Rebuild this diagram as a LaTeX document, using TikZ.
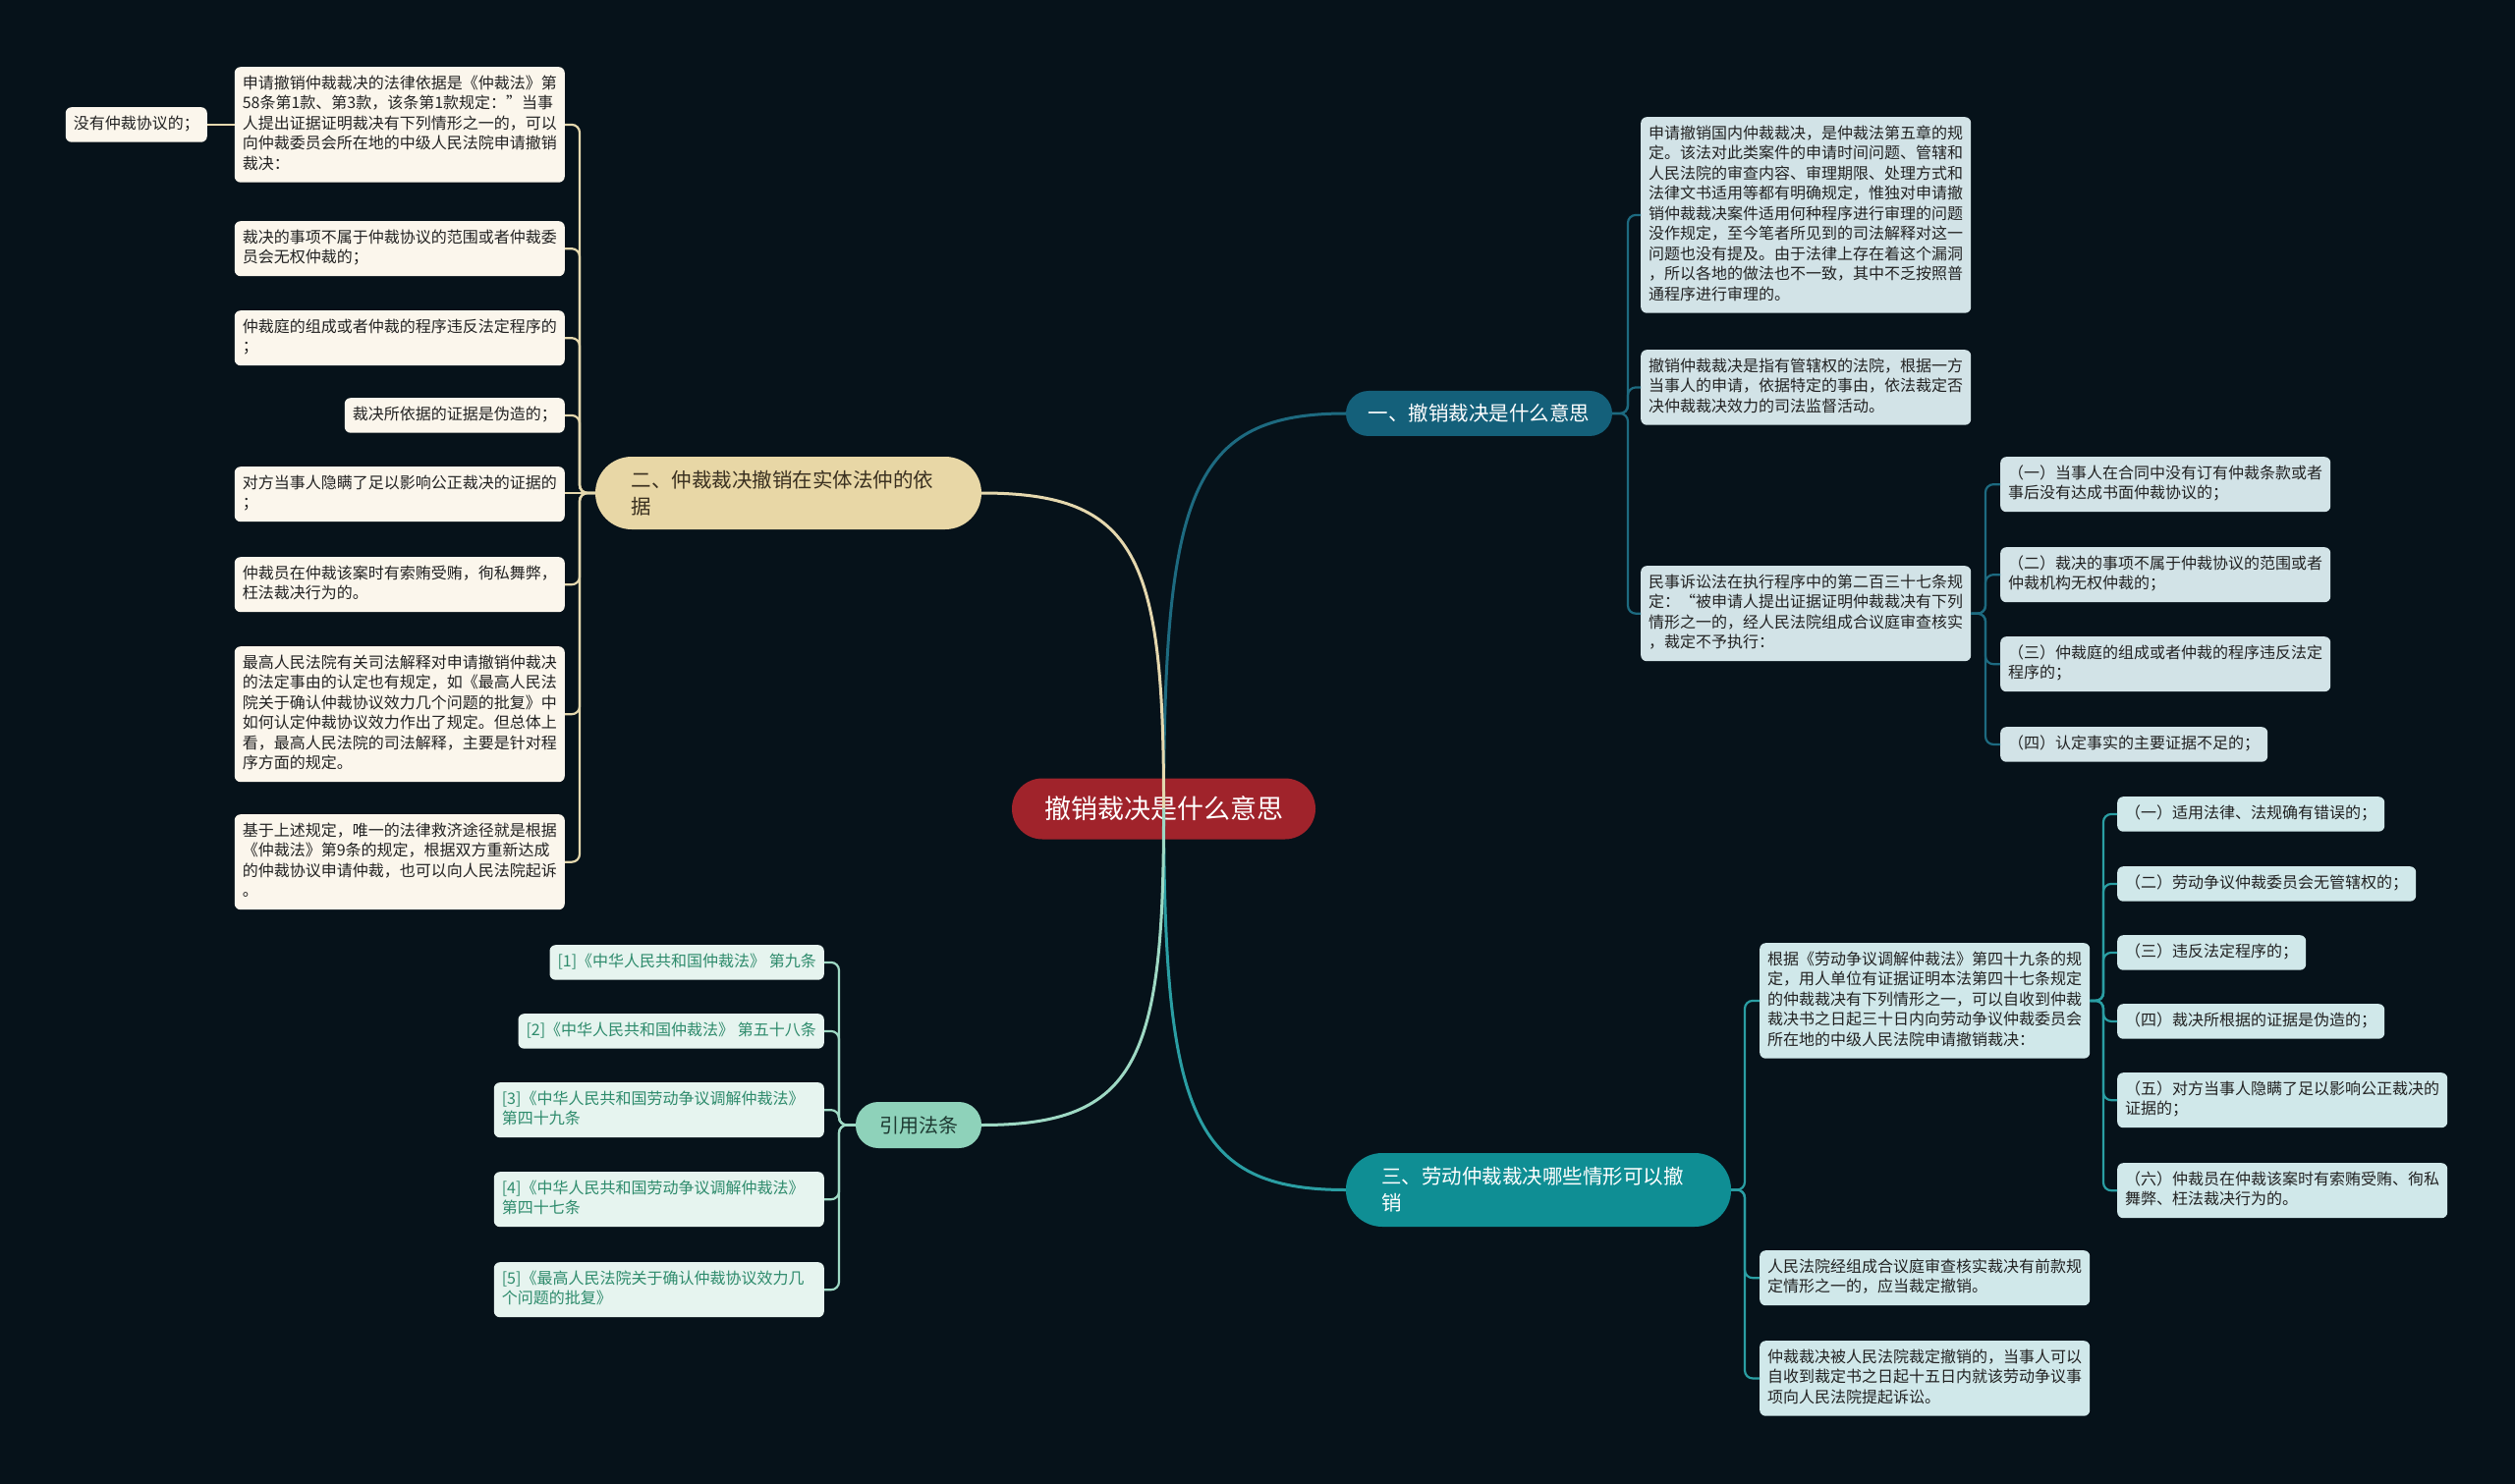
\documentclass[tikz,border=0pt]{standalone}
\usepackage{fontspec}
\setmainfont{Noto Sans CJK SC}
\definecolor{bg}{HTML}{06121A}
\definecolor{cred}{HTML}{A0232B}
\definecolor{cone}{HTML}{14607A}
\definecolor{lone}{HTML}{1D6A80}
\definecolor{cthree}{HTML}{0F8E94}
\definecolor{lthree}{HTML}{2A9EA3}
\definecolor{ctwo}{HTML}{E8D7A6}
\definecolor{ltwo}{HTML}{E5D8AE}
\definecolor{cfour}{HTML}{8ED2BA}
\definecolor{lfour}{HTML}{9ED9C4}
\definecolor{boxblue}{HTML}{D2E3E7}
\definecolor{boxteal}{HTML}{D0E8EA}
\definecolor{boxcream}{HTML}{FBF6EC}
\definecolor{boxmint}{HTML}{E6F4EF}
\definecolor{txtdark}{HTML}{222222}
\definecolor{txtmint}{HTML}{2E8B6C}
\definecolor{txttwo}{HTML}{3A3020}
\definecolor{txtfour}{HTML}{1E3A32}
\tikzset{
  leaf/.style={rounded corners=6pt, inner xsep=8pt, inner ysep=7.5pt, align=left,
    font=\fontsize{16}{20.5}\selectfont, execute at begin node=\strut, execute at end node=\strut},
  bluebox/.style={leaf, fill=boxblue, text=txtdark},
  tealbox/.style={leaf, fill=boxteal, text=txtdark},
  creambox/.style={leaf, fill=boxcream, text=txtdark},
  mintbox/.style={leaf, fill=boxmint, text=txtmint},
  wbox/.style={text width=320pt},
  pillnode/.style={rounded corners=#1, inner sep=0pt},
  mainline/.style={line width=3pt},
  subline/.style={line width=2.2pt, rounded corners=8pt},
}
\newcommand\rconn[4]{\draw[subline,#1] (#2.east) -| ([xshift=-#4]#3.west) -- (#3.west);}
\newcommand\lconn[4]{\draw[subline,#1] (#2.west) -| ([xshift=#4]#3.east) -- (#3.east);}
\begin{document}
\begin{tikzpicture}[x=1pt,y=-1pt]
\fill[bg] (0,0) rectangle (2560,1511);
\useasboundingbox (0,0) rectangle (2560,1511);

% central
\node[pillnode=31pt, fill=cred, text=white, minimum width=309pt, minimum height=62pt,
  font=\fontsize{27}{32}\selectfont] (c) at (1184.5,823.5) {撤销裁决是什么意思};

% main branches
\node[pillnode=23pt, fill=cone, text=white, minimum width=271pt, minimum height=46pt,
  font=\fontsize{20.5}{27}\selectfont] (n1) at (1505.5,421) {一、撤销裁决是什么意思};
\node[pillnode=37pt, fill=cthree, text=white, minimum width=392pt, minimum height=75pt,
  inner xsep=36pt, text width=320pt, align=left,
  font=\fontsize{20.5}{27}\selectfont] (n3) at (1566,1211.5) {三、劳动仲裁裁决哪些情形可以撤\\销};
\node[pillnode=37pt, fill=ctwo, text=txttwo, minimum width=393pt, minimum height=74pt,
  inner xsep=36pt, text width=320pt, align=left,
  font=\fontsize{20.5}{27}\selectfont] (n2) at (802.5,502) {二、仲裁裁决撤销在实体法仲的依\\据};
\node[pillnode=23pt, fill=cfour, text=txtfour, minimum width=128pt, minimum height=47pt,
  font=\fontsize{20}{26}\selectfont] (n4) at (935,1145.5) {引用法条};

% branch 1 children
\node[bluebox, wbox, anchor=north west] (a1) at (1670,119) {申请撤销国内仲裁裁决，是仲裁法第五章的规\\定。该法对此类案件的申请时间问题、管辖和\\人民法院的审查内容、审理期限、处理方式和\\法律文书适用等都有明确规定，惟独对申请撤\\销仲裁裁决案件适用何种程序进行审理的问题\\没作规定，至今笔者所见到的司法解释对这一\\问题也没有提及。由于法律上存在着这个漏洞\\，所以各地的做法也不一致，其中不乏按照普\\通程序进行审理的。};
\node[bluebox, wbox, anchor=north west] (a2) at (1670,356) {撤销仲裁裁决是指有管辖权的法院，根据一方\\当事人的申请，依据特定的事由，依法裁定否\\决仲裁裁决效力的司法监督活动。};
\node[bluebox, wbox, anchor=north west] (a3) at (1670,576) {民事诉讼法在执行程序中的第二百三十七条规\\定：“被申请人提出证据证明仲裁裁决有下列\\情形之一的，经人民法院组成合议庭审查核实\\，裁定不予执行：};
\node[bluebox, wbox, anchor=north west] (a31) at (2036,465) {（一）当事人在合同中没有订有仲裁条款或者\\事后没有达成书面仲裁协议的；};
\node[bluebox, wbox, anchor=north west] (a32) at (2036,557) {（二）裁决的事项不属于仲裁协议的范围或者\\仲裁机构无权仲裁的；};
\node[bluebox, wbox, anchor=north west] (a33) at (2036,648) {（三）仲裁庭的组成或者仲裁的程序违反法定\\程序的；};
\node[bluebox, anchor=north west] (a34) at (2036,740) {（四）认定事实的主要证据不足的；};

% branch 3 children
\node[tealbox, wbox, anchor=north west] (b1) at (1791,960) {根据《劳动争议调解仲裁法》第四十九条的规\\定，用人单位有证据证明本法第四十七条规定\\的仲裁裁决有下列情形之一，可以自收到仲裁\\裁决书之日起三十日内向劳动争议仲裁委员会\\所在地的中级人民法院申请撤销裁决：};
\node[tealbox, wbox, anchor=north west] (b2) at (1791,1273) {人民法院经组成合议庭审查核实裁决有前款规\\定情形之一的，应当裁定撤销。};
\node[tealbox, wbox, anchor=north west] (b3) at (1791,1365) {仲裁裁决被人民法院裁定撤销的，当事人可以\\自收到裁定书之日起十五日内就该劳动争议事\\项向人民法院提起诉讼。};
\node[tealbox, anchor=north west] (b11) at (2155,811) {（一）适用法律、法规确有错误的；};
\node[tealbox, anchor=north west] (b12) at (2155,882) {（二）劳动争议仲裁委员会无管辖权的；};
\node[tealbox, anchor=north west] (b13) at (2155,952) {（三）违反法定程序的；};
\node[tealbox, anchor=north west] (b14) at (2155,1022) {（四）裁决所根据的证据是伪造的；};
\node[tealbox, wbox, anchor=north west] (b15) at (2155,1092) {（五）对方当事人隐瞒了足以影响公正裁决的\\证据的；};
\node[tealbox, wbox, anchor=north west] (b16) at (2155,1184) {（六）仲裁员在仲裁该案时有索贿受贿、徇私\\舞弊、枉法裁决行为的。};

% branch 2 children
\node[creambox, wbox, anchor=north east] (l1) at (575,68) {申请撤销仲裁裁决的法律依据是《仲裁法》第\\58条第1款、第3款，该条第1款规定："当事\\人提出证据证明裁决有下列情形之一的，可以\\向仲裁委员会所在地的中级人民法院申请撤销\\裁决：};
\node[creambox, anchor=north east] (l1c) at (211,109) {没有仲裁协议的；};
\node[creambox, wbox, anchor=north east] (l2) at (575,225) {裁决的事项不属于仲裁协议的范围或者仲裁委\\员会无权仲裁的；};
\node[creambox, wbox, anchor=north east] (l3) at (575,316) {仲裁庭的组成或者仲裁的程序违反法定程序的\\；};
\node[creambox, anchor=north east] (l4) at (575,405) {裁决所依据的证据是伪造的；};
\node[creambox, wbox, anchor=north east] (l5) at (575,475) {对方当事人隐瞒了足以影响公正裁决的证据的\\；};
\node[creambox, wbox, anchor=north east] (l6) at (575,567) {仲裁员在仲裁该案时有索贿受贿，徇私舞弊，\\枉法裁决行为的。};
\node[creambox, wbox, anchor=north east] (l7) at (575,658) {最高人民法院有关司法解释对申请撤销仲裁决\\的法定事由的认定也有规定，如《最高人民法\\院关于确认仲裁协议效力几个问题的批复》中\\如何认定仲裁协议效力作出了规定。但总体上\\看，最高人民法院的司法解释，主要是针对程\\序方面的规定。};
\node[creambox, wbox, anchor=north east] (l8) at (575,829) {基于上述规定，唯一的法律救济途径就是根据\\《仲裁法》第9条的规定，根据双方重新达成\\的仲裁协议申请仲裁，也可以向人民法院起诉\\。};

% branch 4 children
\node[mintbox, anchor=north east] (r1) at (839,962) {[1]《中华人民共和国仲裁法》 第九条};
\node[mintbox, anchor=north east] (r2) at (839,1032) {[2]《中华人民共和国仲裁法》 第五十八条};
\node[mintbox, wbox, anchor=north east] (r3) at (839,1102) {[3]《中华人民共和国劳动争议调解仲裁法》\\第四十九条};
\node[mintbox, wbox, anchor=north east] (r4) at (839,1193) {[4]《中华人民共和国劳动争议调解仲裁法》\\第四十七条};
\node[mintbox, wbox, anchor=north east] (r5) at (839,1285) {[5]《最高人民法院关于确认仲裁协议效力几\\个问题的批复》};

% sub connectors
\rconn{lone}{n1}{a1}{13pt}
\rconn{lone}{n1}{a2}{13pt}
\rconn{lone}{n1}{a3}{13pt}
\rconn{lone}{a3}{a31}{15pt}
\rconn{lone}{a3}{a32}{15pt}
\rconn{lone}{a3}{a33}{15pt}
\rconn{lone}{a3}{a34}{15pt}
\rconn{lthree}{n3}{b1}{15pt}
\rconn{lthree}{n3}{b2}{15pt}
\rconn{lthree}{n3}{b3}{15pt}
\rconn{lthree}{b1}{b11}{14pt}
\rconn{lthree}{b1}{b12}{14pt}
\rconn{lthree}{b1}{b13}{14pt}
\rconn{lthree}{b1}{b14}{14pt}
\rconn{lthree}{b1}{b15}{14pt}
\rconn{lthree}{b1}{b16}{14pt}
\lconn{ltwo}{n2}{l1}{15pt}
\lconn{ltwo}{n2}{l2}{15pt}
\lconn{ltwo}{n2}{l3}{15pt}
\lconn{ltwo}{n2}{l4}{15pt}
\draw[subline,ltwo] (n2.west) -- (n2.west -| l5.east);
\lconn{ltwo}{n2}{l6}{15pt}
\lconn{ltwo}{n2}{l7}{15pt}
\lconn{ltwo}{n2}{l8}{15pt}
\draw[subline,ltwo] (l1.west) -- (l1.west -| l1c.east);
\lconn{lfour}{n4}{r1}{15pt}
\lconn{lfour}{n4}{r2}{15pt}
\lconn{lfour}{n4}{r3}{15pt}
\lconn{lfour}{n4}{r4}{15pt}
\lconn{lfour}{n4}{r5}{15pt}

% main connectors (over the central node)
\draw[mainline,lone] (c.center) .. controls (1185,500) and (1213,421) .. (n1.west);
\draw[mainline,lthree] (c.center) .. controls (1185,1134) and (1213,1211.5) .. (n3.west);
\draw[mainline,ltwo] (c.center) .. controls (1185,566) and (1157,502) .. (n2.east);
\draw[mainline,lfour] (c.center) .. controls (1185,1081) and (1157,1145.5) .. (n4.east);
\end{tikzpicture}
\end{document}
